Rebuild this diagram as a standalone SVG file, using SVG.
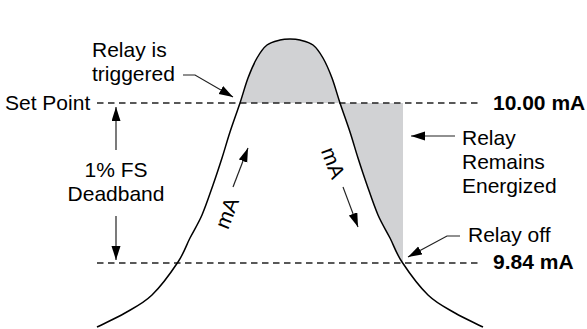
<svg xmlns="http://www.w3.org/2000/svg" width="587" height="329" viewBox="0 0 587 329">
<style>
  text { font-family: "Liberation Sans", Arial, Helvetica, sans-serif; font-size: 21px; fill: #000; }
  .bold { font-weight: bold; }
  .dash { fill: none; stroke: #222; stroke-width: 1.3; stroke-dasharray: 6.5 4.5; }
  .lead { fill: none; stroke: #222; stroke-width: 1.2; }
  .shade { fill: #d1d2d4; stroke: none; }
  .curve { fill: none; stroke: #000; stroke-width: 1.5; stroke-linejoin: round; }
</style>
<defs>
  <marker id="ah" markerUnits="userSpaceOnUse" markerWidth="15" markerHeight="10" refX="14" refY="4.5" orient="auto">
    <path d="M0,0 L14,4.5 L0,9 Z" fill="#000"/>
  </marker>
</defs>

<g id="shading">
  <path class="shade" d="M240,103 C243,94 245.17,85.5 248,78 C250.83,70.5 253.83,63.5 257,58 C260.17,52.5 263.17,48 267,45 C270.83,42 276.17,41 280,40 C283.83,39 286.67,39 290,39 C293.33,39 296.17,39 300,40 C303.83,41 309.17,42 313,45 C316.83,48 319.83,52.5 323,58 C326.17,63.5 329.17,70.5 332,78 C334.83,85.5 337,94 340,103 Z"/>
  <path class="shade" d="M340,103 C343,112 347,122.83 350,132 C353,141.17 355.17,149.17 358,158 C360.83,166.83 363.67,175.5 367,185 C370.33,194.5 374.17,206.17 378,215 C381.83,223.83 386,230.17 390,238 C394,245.83 395.67,252.5 402,262 L403,263 L403,103 Z"/>
</g>

<g id="reference-lines">
  <line class="dash" x1="97" y1="103" x2="482" y2="103"/>
  <line class="dash" x1="97" y1="263" x2="482" y2="263"/>
</g>

<g id="bell-curve">
  <path class="curve" d="M97,327 C106.33,322.33 115.83,318.33 125,313 C134.17,307.67 143.17,303.5 152,295 C160.83,286.5 171.67,271.5 178,262 C184.33,252.5 186,245.83 190,238 C194,230.17 198.17,223.83 202,215 C205.83,206.17 209.67,194.5 213,185 C216.33,175.5 219.17,166.83 222,158 C224.83,149.17 227,141.17 230,132 C233,122.83 237,112 240,103 C243,94 245.17,85.5 248,78 C250.83,70.5 253.83,63.5 257,58 C260.17,52.5 263.17,48 267,45 C270.83,42 276.17,41 280,40 C283.83,39 286.67,39 290,39 C293.33,39 296.17,39 300,40 C303.83,41 309.17,42 313,45 C316.83,48 319.83,52.5 323,58 C326.17,63.5 329.17,70.5 332,78 C334.83,85.5 337,94 340,103 C343,112 347,122.83 350,132 C353,141.17 355.17,149.17 358,158 C360.83,166.83 363.67,175.5 367,185 C370.33,194.5 374.17,206.17 378,215 C381.83,223.83 386,230.17 390,238 C394,245.83 395.67,252.5 402,262 C408.33,271.5 419.17,286.5 428,295 C436.83,303.5 445.83,307.67 455,313 C464.17,318.33 473.67,322.33 483,327"/>
</g>

<g id="connectors">
  <polyline class="lead" points="183,75 195,75 233,97" marker-end="url(#ah)"/>
  <line class="lead" x1="116" y1="150" x2="116" y2="107" marker-end="url(#ah)"/>
  <line class="lead" x1="116" y1="216" x2="116" y2="260" marker-end="url(#ah)"/>
  <line class="lead" x1="455" y1="136" x2="411" y2="136" marker-end="url(#ah)"/>
  <polyline class="lead" points="460,236 447,236 408,257" marker-end="url(#ah)"/>
  <line class="lead" x1="233" y1="187" x2="248" y2="148" marker-end="url(#ah)"/>
  <line class="lead" x1="343" y1="187" x2="358" y2="227" marker-end="url(#ah)"/>
</g>

<g id="label-triggered">
  <text x="92" y="57">Relay is</text>
  <text x="92" y="81">triggered</text>
</g>
<g id="label-setpoint">
  <text x="5" y="110">Set Point</text>
</g>
<g id="label-deadband">
  <text x="116" y="177" text-anchor="middle">1% FS</text>
  <text x="116" y="201" text-anchor="middle">Deadband</text>
</g>
<g id="label-10ma">
  <text class="bold" x="493" y="110">10.00 mA</text>
</g>
<g id="label-984ma">
  <text class="bold" x="493" y="269">9.84 mA</text>
</g>
<g id="label-remains">
  <text x="462" y="145">Relay</text>
  <text x="462" y="169">Remains</text>
  <text x="462" y="193">Energized</text>
</g>
<g id="label-off">
  <text x="468" y="242">Relay off</text>
</g>
<g id="label-ma-up">
  <text transform="translate(227,213) rotate(-69)" x="0" y="7" text-anchor="middle">mA</text>
</g>
<g id="label-ma-down">
  <text transform="translate(333,163) rotate(69)" x="0" y="7" text-anchor="middle">mA</text>
</g>
</svg>
